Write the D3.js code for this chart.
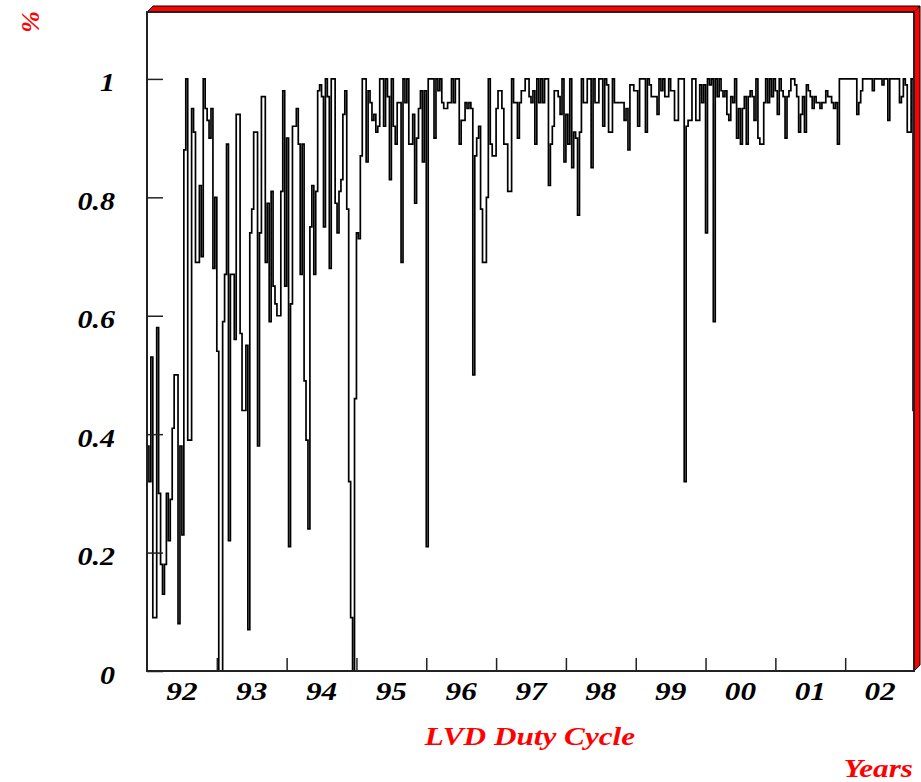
<!DOCTYPE html>
<html>
<head>
<meta charset="utf-8">
<script src="https://cdn.jsdelivr.net/npm/d3@7/dist/d3.min.js"></script>
<style>
  html, body { margin: 0; padding: 0; background: #fff; }
  svg { display: block; }
  text { font-family: "Liberation Serif", "Times New Roman", serif; font-weight: bold; font-style: italic; }
</style>
</head>
<body>
<svg id="chart" width="921" height="782"></svg>
<script>
// LVD duty cycle, one value per ~10-day bin (36 bins per year)
const duty1992 = [0.38,0.32,0.53,0.09,0.09,0.58,0.30,0.18,0.13,0.18,0.30,0.22,0.29,0.41,0.50,0.50,0.08,0.38,0.23,0.88,1.00,0.39,0.39,0.95,0.91,0.69,0.69,0.82,0.70,1.00,0.95,0.93,0.90,0.95,0.68,0.80];
const duty1993 = [0.54,0.00,0.00,0.59,0.67,0.89,0.22,0.67,0.67,0.56,0.94,0.94,0.57,0.44,0.44,0.55,0.07,0.74,0.78,0.91,0.91,0.38,0.74,0.97,0.97,0.69,0.79,0.59,0.81,0.65,0.62,0.60,0.60,0.81,0.98,0.65];
const duty1994 = [0.90,0.21,0.62,0.92,0.92,0.95,0.89,0.67,0.89,0.49,0.39,0.24,0.75,0.82,0.67,0.81,0.98,0.99,0.97,0.75,1.00,0.97,0.68,1.00,1.00,0.79,0.74,0.81,0.83,0.94,0.98,0.78,0.32,0.09,0.00,0.46];
const duty1995 = [0.74,0.73,0.87,1.00,1.00,0.86,0.98,0.96,0.93,0.94,0.91,0.92,1.00,1.00,0.92,1.00,0.97,0.83,1.00,0.92,0.89,0.96,0.96,0.69,1.00,0.96,1.00,0.89,0.89,0.94,0.79,0.90,0.95,0.98,0.86,0.98];
const duty1996 = [0.21,1.00,1.00,1.00,0.90,1.00,0.98,1.00,0.96,0.95,0.95,0.96,0.96,1.00,0.96,1.00,1.00,0.89,0.93,0.93,0.96,0.95,0.96,0.95,0.50,0.87,0.90,0.92,0.78,0.69,0.69,0.80,1.00,0.89,0.87,0.87];
const duty1997 = [0.95,0.98,0.98,0.95,0.89,0.89,0.81,0.81,1.00,0.96,0.96,0.90,0.96,0.98,0.98,1.00,1.00,0.97,0.96,0.98,0.89,1.00,0.96,1.00,0.96,1.00,1.00,0.82,0.89,0.92,0.98,0.98,0.97,0.94,1.00,0.86];
const duty1998 = [0.94,0.89,1.00,0.85,0.91,0.90,0.77,0.91,1.00,0.96,0.96,1.00,1.00,0.85,1.00,0.96,0.96,1.00,1.00,0.92,1.00,0.99,0.91,0.91,1.00,0.96,0.96,0.96,0.96,0.96,0.93,0.95,0.88,0.99,0.99,0.98];
const duty1999 = [0.98,0.92,1.00,1.00,1.00,0.91,1.00,0.99,0.97,0.97,0.97,0.94,1.00,0.98,1.00,0.97,0.97,1.00,0.98,0.98,0.93,0.93,1.00,1.00,1.00,0.32,0.92,0.93,0.93,1.00,1.00,0.93,0.93,0.99,0.96,0.99];
const duty2000 = [0.74,1.00,0.99,1.00,0.59,1.00,0.97,1.00,0.98,0.97,0.98,0.94,0.93,0.97,0.96,1.00,0.90,0.95,0.89,0.95,0.97,0.89,0.97,0.98,0.97,0.93,1.00,0.90,0.89,0.89,0.96,1.00,0.96,1.00,0.97,1.00];
const duty2001 = [0.98,0.94,1.00,0.98,0.97,0.90,0.97,0.98,1.00,1.00,0.99,0.97,0.91,0.94,0.97,0.91,0.99,0.98,0.97,0.95,0.97,0.96,0.96,0.95,0.96,0.96,0.98,0.97,0.97,0.96,0.95,0.96,0.89,1.00,1.00,1.00];
const duty2002 = [1.00,1.00,1.00,1.00,1.00,1.00,0.94,0.96,0.98,1.00,1.00,1.00,1.00,1.00,0.98,1.00,1.00,1.00,1.00,0.99,1.00,1.00,0.93,1.00,1.00,1.00,1.00,1.00,0.96,0.97,1.00,0.99,0.91,0.91,1.00,0.44];

const yearLabels = ["92","93","94","95","96","97","98","99","00","01","02"];
const yTickValues = [0, 0.2, 0.4, 0.6, 0.8, 1];
const firstYear = 1992;
const binsPerYear = 36;

const duty = [].concat(duty1992, duty1993, duty1994, duty1995, duty1996, duty1997,
                       duty1998, duty1999, duty2000, duty2001, duty2002);
const lastYear = firstYear + yearLabels.length;

const frame = { left: 147, right: 914, top: 12, bottom: 671 };
const depth = 6; // raised-border offset

const svg = d3.select("#chart");
svg.append("rect").attr("width", 921).attr("height", 782).attr("fill", "#fff");

const x = d3.scaleLinear().domain([firstYear, lastYear]).range([frame.left, frame.right + 1]);
const y = d3.scaleLinear().domain([0, 1.113]).range([frame.bottom, frame.top]);

// stretch glyphs horizontally to the wide look of the labels
function widen(sel, k) {
  sel.each(function () {
    const w = this.getComputedTextLength();
    d3.select(this).attr("textLength", w * k).attr("lengthAdjust", "spacingAndGlyphs");
  });
}

// histogram as a step line
const pts = duty.map((v, i) => [firstYear + i / binsPerYear, v]);
pts.push([lastYear, duty[duty.length - 1]]);
const step = d3.line().x(d => x(d[0])).y(d => y(d[1])).curve(d3.curveStepAfter);

svg.append("clipPath").attr("id", "plotclip")
  .append("rect").attr("x", frame.left).attr("y", frame.top)
  .attr("width", frame.right - frame.left + 1).attr("height", frame.bottom - frame.top);

svg.append("path")
  .attr("d", step(pts))
  .attr("fill", "none")
  .attr("stroke", "#000")
  .attr("stroke-width", 1.7)
  .attr("stroke-linejoin", "miter")
  .attr("clip-path", "url(#plotclip)");

// raised red border on top and right
svg.append("polygon")
  .attr("points", [[frame.left, frame.top], [frame.left + depth, frame.top - depth],
                   [frame.right + depth, frame.top - depth], [frame.right, frame.top]].join(" "))
  .attr("fill", "#ff0000").attr("stroke", "#000").attr("stroke-width", 1);
svg.append("polygon")
  .attr("points", [[frame.right, frame.top], [frame.right + depth, frame.top - depth],
                   [frame.right + depth, frame.bottom - depth], [frame.right, frame.bottom]].join(" "))
  .attr("fill", "#ff0000").attr("stroke", "#000").attr("stroke-width", 1);

// frame
svg.append("rect")
  .attr("x", frame.left).attr("y", frame.top)
  .attr("width", frame.right - frame.left).attr("height", frame.bottom - frame.top)
  .attr("fill", "none").attr("stroke", "#222").attr("stroke-width", 2);

// y axis: ticks inside the frame, labels on the left
const yAxis = d3.axisLeft(y).tickValues(yTickValues)
  .tickFormat(d => d3.format("")(+d.toFixed(1)))
  .tickSizeInner(-16).tickSizeOuter(0).tickPadding(32);
const gy = svg.append("g").attr("transform", `translate(${frame.left},0)`).call(yAxis);
gy.select(".domain").remove();
gy.selectAll(".tick line").attr("stroke", "#222").attr("stroke-width", 1.5);
gy.selectAll(".tick text")
  .attr("font-family", null).attr("font-size", null)
  .style("font-size", "25px").attr("fill", "#000").attr("dy", "0.48em");
widen(gy.selectAll(".tick text"), 1.2);

// x axis: ticks at year boundaries, year labels centred in each year
const boundaries = d3.range(firstYear + 1, lastYear);
const xAxis = d3.axisBottom(x).tickValues(boundaries).tickFormat("")
  .tickSizeInner(-13).tickSizeOuter(0);
const gx = svg.append("g").attr("transform", `translate(0,${frame.bottom})`).call(xAxis);
gx.select(".domain").remove();
gx.selectAll(".tick line").attr("stroke", "#222").attr("stroke-width", 1.5);

const labels = svg.append("g");
labels.selectAll("text").data(yearLabels).join("text")
  .attr("x", (d, i) => x(firstYear + i + 0.5))
  .attr("y", 700)
  .attr("text-anchor", "middle")
  .style("font-size", "26px")
  .attr("fill", "#000")
  .text(d => d);
widen(labels.selectAll("text"), 1.2);

// titles
const title = svg.append("text")
  .attr("x", 530).attr("y", 745).attr("text-anchor", "middle")
  .style("font-size", "26px").attr("fill", "#ff0000")
  .text("LVD Duty Cycle");
widen(title, 1.2);

const xTitle = svg.append("text")
  .attr("x", 913).attr("y", 777).attr("text-anchor", "end")
  .style("font-size", "26px").attr("fill", "#ff0000")
  .text("Years");
widen(xTitle, 1.2);

svg.append("text")
  .attr("transform", "translate(39,22) rotate(-90)")
  .attr("text-anchor", "middle")
  .style("font-size", "26px").attr("fill", "#ff0000")
  .text("%");
</script>
</body>
</html>
